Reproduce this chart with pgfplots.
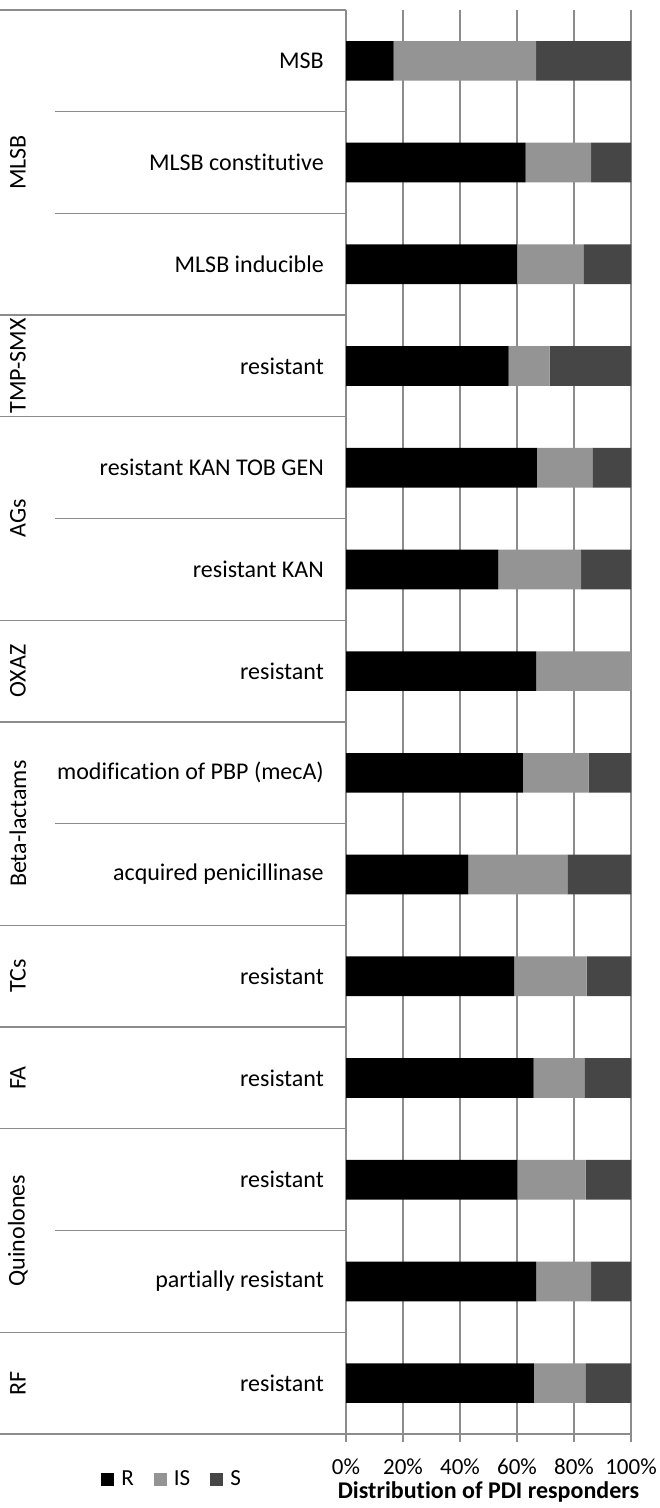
\documentclass[border=0pt]{standalone}
\usepackage{pgfplots}
\pgfplotsset{compat=1.18}
\usepackage{fontspec}
\setmainfont{Carlito}[Ligatures={NoCommon}]
\definecolor{cR}{HTML}{000000}
\definecolor{cIS}{HTML}{949494}
\definecolor{cS}{HTML}{464646}
\definecolor{gridc}{HTML}{8C8C8C}
\begin{document}
\fontsize{24bp}{28bp}\selectfont
\begin{tikzpicture}[x=1bp,y=1bp]
\path[use as bounding box] (0,0) rectangle (660,1508);
\begin{axis}[
 at={(346bp,74bp)}, anchor=south west,
 width=285bp, height=1424bp, scale only axis,
 xbar stacked, bar width=0.39,
 xmin=0, xmax=100, ymin=-0.5, ymax=13.5, y dir=reverse,
 xtick={0,20,40,60,80,100},
 xticklabels={0\%,20\%,40\%,60\%,80\%,100\%},
 ytick={0,1,2,3,4,5,6,7,8,9,10,11,12,13},
 yticklabels={MSB,MLSB constitutive,MLSB inducible,resistant,resistant KAN TOB GEN,resistant KAN,resistant,modification of PBP (mecA),acquired penicillinase,resistant,resistant,resistant,partially resistant,resistant},
 axis x line*=bottom, axis y line*=left,
 axis line style={gridc, line width=1.2bp, -},
 xmajorgrids, grid style={gridc, line width=1.2bp},
 xtick style={gridc, line width=1.2bp}, major tick length=8bp,
 xtick align=outside, ytick style={draw=none},
 yticklabel style={anchor=east, inner sep=0pt, xshift=-22bp, font=\fontsize{24bp}{28bp}\selectfont},
 xticklabel style={anchor=base, inner sep=0pt, yshift=-32bp, font=\fontsize{23bp}{27bp}\selectfont},
 xlabel={\bfseries Distribution of PDI responders},
 xlabel style={at={(axis description cs:0.5,-0.0455)}, anchor=base, inner sep=0pt, font=\fontsize{24bp}{28bp}\selectfont},
 legend style={at={(axis description cs:-0.61,-0.032)}, anchor=center, draw=none, fill=none,
   legend columns=-1, font=\fontsize{23bp}{27bp}\selectfont,
   /tikz/every even column/.append style={column sep=18bp}},
 clip=false,
]
\addplot[fill=cR, draw=none, legend image code/.code={\fill[cR] (0bp,-6.5bp) rectangle (13bp,6.5bp);}] coordinates {
 (16.7,0) (63.0,1) (60.0,2) (57.1,3) (67.0,4) (53.5,5) (66.7,6) (62.1,7) (42.9,8) (59.0,9) (65.8,10) (60.1,11) (66.7,12) (65.9,13)};
\addplot[fill=cIS, draw=none, legend image code/.code={\fill[cIS] (0bp,-6.5bp) rectangle (13bp,6.5bp);}] coordinates {
 (50.0,0) (23.0,1) (23.3,2) (14.3,3) (19.4,4) (29.0,5) (33.3,6) (23.0,7) (34.8,8) (25.4,9) (17.8,10) (24.0,11) (19.3,12) (18.1,13)};
\addplot[fill=cS, draw=none, legend image code/.code={\fill[cS] (0bp,-6.5bp) rectangle (13bp,6.5bp);}] coordinates {
 (33.3,0) (14.0,1) (16.7,2) (28.6,3) (13.6,4) (17.5,5) (0,6) (14.9,7) (22.3,8) (15.6,9) (16.4,10) (15.9,11) (14.0,12) (16.0,13)};
\legend{\hspace{5bp}R,\hspace{5bp}IS,\hspace{5bp}S}
\end{axis}
\foreach \k in {0,3,4,6,7,9,10,11,13,14}
  \draw[gridc, line width=1.3bp] (0,{1498-\k*101.714}) -- (346,{1498-\k*101.714});
\foreach \k in {1,2,5,8,12}
  \draw[gridc, line width=1.3bp] (55,{1498-\k*101.714}) -- (346,{1498-\k*101.714});
\foreach \c/\t in {1.5/MLSB,3.5/TMP-SMX,5/AGs,6.5/OXAZ,8/Beta-lactams,9.5/TCs,10.5/FA,12/Quinolones,13.5/RF}
  \node[rotate=90, font=\fontsize{24bp}{28bp}\selectfont] at (18,{1498-\c*101.714}) {\t};
\end{tikzpicture}
\end{document}
